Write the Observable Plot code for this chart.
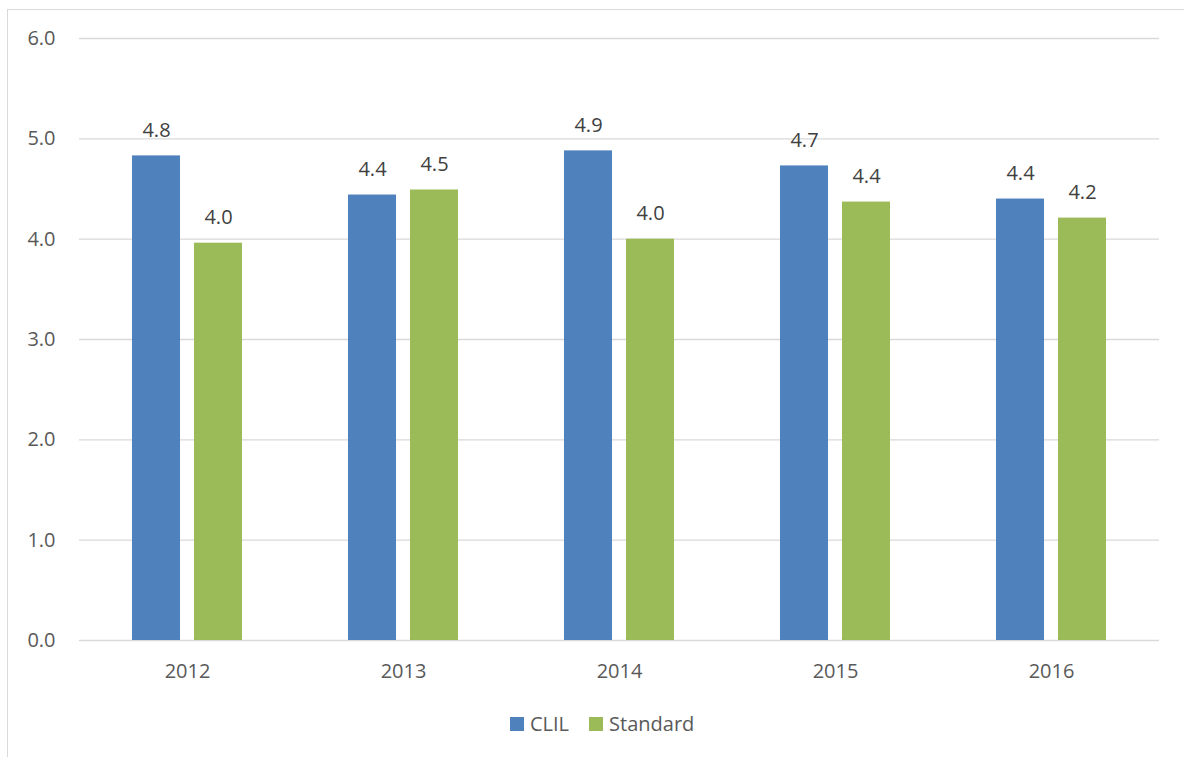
<!DOCTYPE html>
<html>
<head>
<meta charset="utf-8">
<script src="https://cdn.jsdelivr.net/npm/d3@7"></script>
<script src="https://cdn.jsdelivr.net/npm/@observablehq/plot@0.6"></script>
<style>
  html, body { margin: 0; padding: 0; background: #fff; overflow: hidden; }
  body { width: 1184px; height: 757px; position: relative; font-family: "Open Sans", sans-serif; }
  #frame { position: absolute; left: 7px; top: 9px; width: 1400px; height: 1000px; border: 1.5px solid #d9d9d9; box-sizing: border-box; }
  #chart { position: absolute; left: 0; top: 0; }
  #legend { position: absolute; left: 510px; top: 710px; display: flex; align-items: center; font-size: 20px; color: #595959; }
  #legend .item { display: flex; align-items: center; margin-right: 20px; }
  #legend .sw { width: 14px; height: 14px; margin-right: 6px; }
</style>
</head>
<body>
<div id="frame"></div>
<div id="chart"></div>
<div id="legend"></div>
<script>
const years = ["2012", "2013", "2014", "2015", "2016"];
const series = ["CLIL", "Standard"];
const clil = [4.83, 4.44, 4.88, 4.73, 4.40];
const standard = [3.96, 4.49, 4.00, 4.37, 4.21];
const yTicks = [0, 1, 2, 3, 4, 5, 6];
const colors = ["#4f81bd", "#9bbb59"];

const data = years.flatMap((y, i) => [
  {year: y, series: series[0], value: clil[i]},
  {year: y, series: series[1], value: standard[i]}
]);

const chart = Plot.plot({
  width: 1184,
  height: 700,
  marginTop: 38,
  marginLeft: 77,
  marginRight: 24,
  marginBottom: 60,
  style: {fontFamily: "Open Sans", fontSize: "20px", color: "#595959", background: "transparent"},
  fx: {domain: years, padding: 0, label: null, axis: "bottom", tickSize: 0, tickPadding: 23},
  x: {domain: series, paddingInner: 0.22, paddingOuter: 0.84, axis: null},
  y: {domain: [0, 6], ticks: yTicks, tickFormat: d => d.toFixed(1), label: null, tickSize: 0, tickPadding: 24},
  color: {domain: series, range: colors},
  marks: [
    Plot.gridY(yTicks, {stroke: "#d9d9d9", strokeOpacity: 1, strokeWidth: 1.3}),
    Plot.barY(data, {fx: "year", x: "series", y: "value", fill: "series"}),
    Plot.text(data, {fx: "year", x: "series", y: "value", text: d => d.value.toFixed(1), lineAnchor: "bottom", dy: -19, fill: "#404040", fontSize: 20})
  ]
});
document.getElementById("chart").appendChild(chart);

const legend = document.getElementById("legend");
series.forEach((s, i) => {
  const item = document.createElement("div");
  item.className = "item";
  const sw = document.createElement("div");
  sw.className = "sw";
  sw.style.background = colors[i];
  const label = document.createElement("span");
  label.textContent = s;
  item.appendChild(sw);
  item.appendChild(label);
  legend.appendChild(item);
});
</script>
</body>
</html>
